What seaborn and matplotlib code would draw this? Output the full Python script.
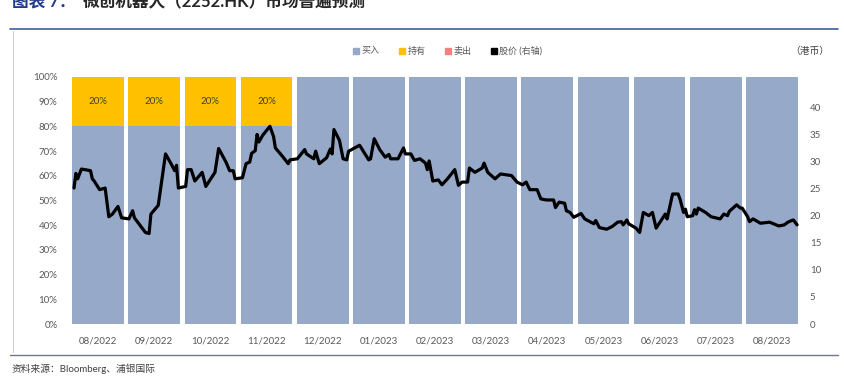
import pandas as pd
import seaborn as sns
import matplotlib.pyplot as plt
from matplotlib.lines import Line2D
from matplotlib.ticker import PercentFormatter

# rating split per month (%)
months = ['08/2022', '09/2022', '10/2022', '11/2022', '12/2022', '01/2023', '02/2023',
          '03/2023', '04/2023', '05/2023', '06/2023', '07/2023', '08/2023']
buy_pct = [80, 80, 80, 80, 100, 100, 100, 100, 100, 100, 100, 100, 100]
hold_pct = [20, 20, 20, 20, 0, 0, 0, 0, 0, 0, 0, 0, 0]
sell_pct = [0, 0, 0, 0, 0, 0, 0, 0, 0, 0, 0, 0, 0]

# share price (HKD), days since 2022-08-01
price_day = [0, 1, 2, 4, 6, 9, 10, 11, 14, 17, 19, 21, 24, 26, 30, 32, 33, 39, 41, 42,
             46, 50, 53, 55, 56, 57, 61, 62, 64, 66, 70, 72, 77, 79, 83, 85, 87, 88, 92, 94,
             96, 97, 99, 100, 101, 103, 107, 109, 110, 114, 117, 118, 122, 126, 127, 131, 132, 134, 138, 140,
             141, 142, 145, 147, 149, 150, 156, 161, 162, 164, 167, 170, 172, 173, 177, 180, 181, 184, 186, 189,
             192, 193, 194, 196, 199, 201, 204, 208, 210, 212, 215, 216, 219, 223, 224, 226, 230, 233, 239, 242,
             245, 247, 249, 253, 255, 258, 262, 263, 265, 268, 269, 271, 273, 277, 279, 284, 285, 287, 291, 294,
             297, 299, 300, 302, 303, 307, 309, 311, 314, 316, 318, 323, 324, 327, 330, 331, 333, 334, 335, 338,
             339, 340, 341, 345, 348, 353, 355, 357, 358, 362, 364, 365, 368, 369, 371, 375, 380, 385, 388, 390,
             392, 393, 395]
price_hkd = [25.1, 27.8, 26.8, 28.6, 28.5, 28.3, 26.8, 26.4, 24.8, 25.1, 19.8, 20.3, 21.7, 19.6, 19.4, 20.9, 19.6, 16.9, 16.7, 20.3,
             21.9, 31.4, 29.6, 28.3, 29.3, 25.1, 25.4, 28.5, 28.5, 26.4, 28.0, 25.4, 28.0, 32.4, 29.9, 28.3, 28.3, 26.8, 27.0, 29.6,
             29.9, 31.5, 32.0, 35.0, 33.6, 34.8, 36.5, 34.6, 32.5, 30.9, 29.6, 30.3, 30.5, 32.2, 31.4, 30.5, 31.9, 29.6, 30.7, 32.3,
             31.4, 35.9, 33.9, 30.5, 30.3, 31.9, 33.0, 30.3, 30.5, 34.2, 32.2, 30.8, 31.3, 30.5, 30.5, 32.5, 31.4, 31.4, 30.2, 30.5,
             29.7, 28.5, 30.1, 26.4, 26.6, 25.7, 26.8, 28.5, 25.6, 26.2, 26.2, 28.8, 28.0, 28.8, 29.7, 28.0, 26.8, 27.7, 27.4, 26.2,
             25.7, 26.2, 24.8, 24.8, 23.1, 22.9, 22.9, 21.5, 22.5, 22.3, 20.9, 20.6, 19.7, 20.4, 19.4, 18.5, 19.1, 17.8, 17.5, 18.0,
             18.8, 18.9, 18.3, 19.2, 18.5, 17.7, 16.9, 20.6, 20.0, 20.6, 17.7, 20.3, 19.4, 24.0, 24.0, 23.1, 20.6, 21.2, 19.8, 20.0,
             21.1, 20.3, 21.4, 20.6, 19.8, 19.4, 20.3, 20.0, 20.8, 22.0, 21.4, 21.4, 19.8, 18.9, 19.4, 18.6, 18.8, 18.1, 18.3, 18.8,
             19.1, 19.2, 18.3]

buy_c, hold_c, sell_c = '#97A9C9', '#FFC000', '#FF7C80'
grey = '#595959'

sns.set_theme(style='white')
plt.rcParams['font.family'] = ['Lato', 'Noto Sans CJK SC', 'DejaVu Sans']

fig = plt.figure(figsize=(8.45, 3.77), dpi=100)
ax = fig.add_axes([70 / 845, 1 - 324 / 377, 730 / 845, 247 / 377])

df = pd.DataFrame({'month': months, 'buy': buy_pct, 'hold': hold_pct, 'sell': sell_pct})
df['buy_hold'] = df['buy'] + df['hold']
df['total'] = df['buy_hold'] + df['sell']

# stacked bars: draw cumulative heights back to front
sns.barplot(data=df, x='month', y='total', color=sell_c, saturation=1, width=0.92, linewidth=0, ax=ax)
sns.barplot(data=df, x='month', y='buy_hold', color=hold_c, saturation=1, width=0.92, linewidth=0, ax=ax)
sns.barplot(data=df, x='month', y='buy', color=buy_c, saturation=1, width=0.92, linewidth=0, ax=ax)

for i, (b, h) in enumerate(zip(buy_pct, hold_pct)):
    if h > 0:
        ax.text(i, b + h / 2, f'{h}%', ha='center', va='center', fontsize=7, color='#404040')

ax.set_xlim(-0.5, len(months) - 0.5)
ax.set_ylim(0, 100)
ax.set_yticks(range(0, 101, 10))
ax.yaxis.set_major_formatter(PercentFormatter(decimals=0))
ax.set_xlabel('')
ax.set_ylabel('')
ax.tick_params(axis='both', length=0, labelsize=7, labelcolor=grey)
ax.tick_params(axis='x', pad=9)
ax.tick_params(axis='y', pad=9)
sns.despine(ax=ax, left=True, bottom=True)

# price line on its own overlay axes (right axis)
ax2 = fig.add_axes(ax.get_position(), frameon=False)
ax2.patch.set_alpha(0)
base = pd.Timestamp('2022-08-01')
dates = base + pd.to_timedelta(price_day, unit='D')
sns.lineplot(x=dates, y=price_hkd, color='black', lw=2.3, ax=ax2)
ax2.set_xlim(base - pd.Timedelta(days=2.2), base + pd.Timedelta(days=396.6))
ax2.set_ylim(0, 45.6)
ax2.set_yticks(range(0, 41, 5))
ax2.set_xticks([])
ax2.yaxis.tick_right()
ax2.tick_params(axis='y', length=0, labelsize=7, labelcolor=grey, pad=7)
ax2.set_xlabel('')
ax2.set_ylabel('')

# legend
handles = [Line2D([], [], marker='s', ls='', color=c, markersize=4.5, label=l)
           for c, l in [(buy_c, '买入'), (hold_c, '持有'), (sell_c, '卖出'), ('black', '股价 (右轴)')]]
fig.legend(handles=handles, loc='center', bbox_to_anchor=(447 / 845, 1 - 51 / 377), ncol=4,
           frameon=False, fontsize=6.5, handletextpad=0.1, columnspacing=2.0, labelcolor=grey,
           handlelength=1.0)
fig.text(810 / 845, 1 - 51 / 377, '（港币）', ha='center', va='center', fontsize=7, color='#404040')

# title, rules and source
fig.text(12 / 845, 1 - 7 / 377, '图表 7：', fontsize=12, fontweight='bold', color='#1F3C88', va='baseline')
fig.text(83 / 845, 1 - 7 / 377, '微创机器人（2252.HK）市场普遍预测', fontsize=12, fontweight='bold',
         color='#262626', va='baseline')
fig.add_artist(Line2D([10 / 845, 838 / 845], [1 - 29 / 377] * 2, color='#3F5FA0', lw=1.2))
fig.add_artist(Line2D([13 / 845, 13 / 845], [1 - 31 / 377, 1 - 352 / 377], color='#D0D0D0', lw=0.8))
fig.add_artist(Line2D([10 / 845, 838 / 845], [1 - 355 / 377] * 2, color='#7070B8', lw=1.0))
fig.text(12 / 845, 1 - 369 / 377, '资料来源：Bloomberg、浦银国际', fontsize=7, color='#404040', va='center')

fig.savefig('out.png', dpi=100)
